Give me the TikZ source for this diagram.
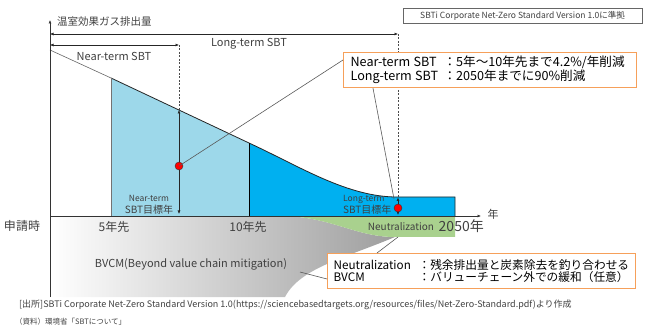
\documentclass[tikz,border=0pt]{standalone}
\usepackage{fontspec}
\setmainfont{Noto Sans CJK JP}
\usetikzlibrary{arrows.meta,calc}
\definecolor{lblue}{RGB}{157,216,234}
\definecolor{bblue}{RGB}{0,176,240}
\definecolor{ngreen}{RGB}{169,209,142}
\definecolor{oborder}{RGB}{246,160,90}
\definecolor{txt}{RGB}{64,64,64}
\newcommand\fsz[2]{\fontsize{#1pt}{#2pt}\selectfont}
\tikzset{
  tip/.tip={Latex[length=3.5pt,width=3pt]},
  axisline/.style={draw=black!80, line width=0.6pt, -tip},
  dimline/.style={draw=black!85, line width=0.6pt, tip-tip},
  dashv/.style={draw=black!70, line width=0.6pt, dash pattern=on 2pt off 1.5pt},
  lead/.style={draw=black!65, line width=0.6pt},
  reddot/.style={circle, fill=red, draw=black!80, line width=0.4pt, minimum size=8pt, inner sep=0pt},
  lbl/.style={text=txt, inner sep=0pt},
  obox/.style={draw=oborder, line width=1.2pt, fill=white, anchor=north west, inner ysep=0pt, align=left},
}
\begin{document}
\begin{tikzpicture}[x=1pt,y=-1pt]
\useasboundingbox (0,0) rectangle (652,336);
% key points
\coordinate (p0) at (50,50);
\coordinate (p5) at (111,78);
\coordinate (pn) at (179,110);
\coordinate (p10) at (249,143);
\coordinate (pl) at (397,197);
\coordinate (pe) at (455,197);
% BVCM gray shape
\shade[left color=white, right color=black!38]
  (50,216) -- (280,216) .. controls (330,216) and (355,237) .. (395,237)
  .. controls (345,258) and (300,268) .. (285,297) -- (50,297) -- cycle;
% Neutralization green
\fill[ngreen] (280,216) .. controls (330,216) and (355,237) .. (395,237) -- (455,237) -- (455,216) -- cycle;
% light blue
\fill[lblue] (p5) -- (p10) -- (249,216) -- (111,216) -- cycle;
% bright blue
\fill[bblue] (p10) .. controls (299,166) and (347,197) .. (pl) -- (pe) -- (455,216) -- (249,216) -- cycle;
% outlines
\draw[black!60, line width=0.6pt] (p0) -- (p5);
\draw[black!85, line width=0.8pt] (p5) -- (p10) .. controls (299,166) and (347,197) .. (pl) -- (pe) -- (455,216);
\draw[black!55, line width=0.9pt] (p5) -- (111,216);
\draw[black, line width=0.8pt] (p10) -- (249,216);
% axes
\coordinate (o) at (50,216);
\coordinate (ytop) at (50,20);
\coordinate (ybot) at (50,297);
\coordinate (xend) at (481,216);
\draw[axisline] (ybot) -- (ytop);
\draw[axisline] (o) -- (xend);
% top dimension arrows
\coordinate (lt0) at (50,34);
\coordinate (lt1) at (398,34);
\coordinate (nt0) at (50,45);
\coordinate (nt1) at (179,45);
\draw[dimline] (lt0) -- (lt1);
\draw[dimline] (nt0) -- (nt1);
\draw[dashv] (lt1) -- (398,197);
\draw[dashv] (nt1) -- (pn);
% target-year arrows
\coordinate (nb0) at (179,214);
\draw[dimline] (pn) -- (nb0);
\coordinate (lb0) at (398,197.5);
\coordinate (lb1) at (398,215);
\draw[dimline] (lb0) -- (lb1);
% callout boxes
\node[obox, inner xsep=7pt, minimum width=293pt, minimum height=35pt, text width=279pt] (nb) at (343,52)
  {\fsz{12.6}{15.5}\makebox[93pt][l]{Near-term SBT}：5年～10年先まで4.2\%/年削減\\
   \makebox[93pt][l]{Long-term SBT}：2050年までに90\%削減};
\node[obox, inner xsep=6pt, minimum width=308pt, minimum height=35pt, text width=296pt] (nz) at (327,253)
  {\fsz{11.7}{15}\makebox[85pt][l]{Neutralization}：残余排出量と炭素除去を釣り合わせる\\
   \makebox[85pt][l]{BVCM}：バリューチェーン外での緩和（任意）};
% red dots
\node[reddot] (rd1) at (179,166) {};
\node[reddot] (rd2) at (398,208) {};
% leader lines
\coordinate (nbl) at ($(nb.north west)+(0,8)$);
\coordinate (nbb) at ($(nb.south west)+(30,0)$);
\coordinate (lt2) at (394,199);
\draw[lead] (rd1.center) -- (nbl);
\draw[lead] (nbb) -- (lt2);
\coordinate (nzt) at ($(nz.north west)+(50,0)$);
\coordinate (gn) at (398,237);
\draw[lead] (gn) -- (nzt);
\coordinate (nzl) at ($(nz.north west)+(0,26)$);
\coordinate (bv) at (300,272);
\draw[lead] (bv) -- (nzl);
% labels
\node[lbl, anchor=west] (ylab) at (57,22) {\fsz{10.5}{12}温室効果ガス排出量};
\node[lbl] (ltl) at (249,44) {\fsz{11}{13}Long-term SBT};
\node[lbl] (ntl) at (114,56) {\fsz{11}{13}Near-term SBT};
\node[lbl] (t0) at (22,226) {\fsz{12}{14}申請時};
\node[lbl] (t5) at (114,227) {\fsz{12}{14}5年先};
\node[lbl] (t10) at (248,227) {\fsz{12}{14}10年先};
\node[lbl, anchor=east] (t2050) at (484,226) {\fsz{14}{16}2050年};
\node[lbl] (neu) at (401,227) {\fsz{10}{12}Neutralization};
\node[lbl] (xlab) at (493,214) {\fsz{11}{13}年};
\node[lbl, align=center] (ntg) at (149,205) {\fsz{8.5}{11}Near-term\\SBT目標年};
\node[lbl, align=left, anchor=west] (ltg) at (343,205) {\fsz{8.5}{11}Long-term\\SBT目標年};
\node[lbl] (bvl) at (191,264) {\fsz{11}{13}BVCM(Beyond value chain mitigation)};
\node[draw=black!60, line width=0.6pt, minimum width=239pt, minimum height=15pt, inner sep=0pt, text=txt] (std) at (522.5,15.5)
  {\fsz{8.5}{10}SBTi Corporate Net-Zero Standard Version 1.0に準拠};
\node[lbl, anchor=west] (src) at (19,305) {\fsz{9}{10}[出所]SBTi Corporate Net-Zero Standard Version 1.0(https://sciencebasedtargets.org/resources/files/Net-Zero-Standard.pdf)より作成};
\node[lbl, anchor=west] (doc) at (15,322) {\fsz{7.5}{9}（資料）環境省「SBTについて」};
\end{tikzpicture}
\end{document}
